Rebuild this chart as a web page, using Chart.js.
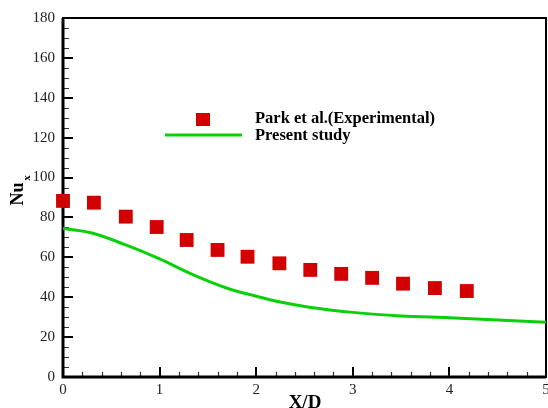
<!DOCTYPE html>
<html>
<head>
<meta charset="utf-8">
<script src="https://cdn.jsdelivr.net/npm/chart.js@4/dist/chart.umd.min.js"></script>
<style>
  html, body { margin: 0; padding: 0; background: #fff; }
  #wrap { width: 548px; height: 408px; }
</style>
</head>
<body>
<div id="wrap"><canvas id="nuChart" width="548" height="408"></canvas></div>
<script>
// experimental points (Park et al.)
const expX = [0, 0.32, 0.65, 0.97, 1.28, 1.6, 1.91, 2.24, 2.56, 2.88, 3.2, 3.52, 3.85, 4.18];
const expNu = [88.3, 87.4, 80.4, 75.2, 68.7, 63.7, 60.3, 57, 53.7, 51.7, 49.7, 46.8, 44.6, 43.1];

// present study curve
const simX = [0, 0.3, 0.65, 1.0, 1.35, 1.7, 2.0, 2.25, 2.55, 3.0, 3.5, 4.0, 4.5, 5.0];
const simNu = [74.5, 72.2, 66.2, 59.2, 51.2, 44.5, 40.5, 37.6, 35, 32.4, 30.6, 29.7, 28.6, 27.4];

const xTicks = [0, 1, 2, 3, 4, 5];
const yTicks = [0, 20, 40, 60, 80, 100, 120, 140, 160, 180];

const RED = '#d30000';
const GREEN = '#0ad00a';
const serif = '"Liberation Serif", "Times New Roman", serif';

// frame, inward ticks, axis titles and legend
const tecplotLook = {
    id: 'tecplotLook',
    beforeDatasetsDraw(chart) {
        const { ctx, chartArea: a, scales } = chart;
        const xs = scales.x, ys = scales.y;
        ctx.save();

        // minor ticks
        ctx.lineWidth = 1.2;
        ctx.strokeStyle = '#333';
        ctx.beginPath();
        for (let v = 0; v <= 180; v += 5) {
            if (v % 20 === 0) continue;
            const y = Math.round(ys.getPixelForValue(v)) + 0.5;
            ctx.moveTo(a.left, y);
            ctx.lineTo(a.left + 6, y);
        }
        for (let i = 0; i <= 25; i++) {
            if (i % 5 === 0) continue;
            const x = Math.round(xs.getPixelForValue(i / 5)) + 0.5;
            ctx.moveTo(x, a.bottom);
            ctx.lineTo(x, a.bottom - 5);
        }
        ctx.stroke();

        // major ticks
        ctx.strokeStyle = '#000';
        ctx.lineWidth = 2;
        ctx.beginPath();
        yTicks.forEach(v => {
            const y = Math.round(ys.getPixelForValue(v));
            ctx.moveTo(a.left, y);
            ctx.lineTo(a.left + 10, y);
        });
        xTicks.forEach(v => {
            const x = Math.round(xs.getPixelForValue(v));
            ctx.moveTo(x, a.bottom);
            ctx.lineTo(x, a.bottom - 10);
        });
        ctx.stroke();

        // frame
        ctx.lineWidth = 2;
        ctx.strokeRect(a.left, a.top, a.right - a.left, a.bottom - a.top);
        ctx.lineWidth = 3;
        ctx.beginPath();
        ctx.moveTo(a.left, a.top);
        ctx.lineTo(a.left, a.bottom);
        ctx.lineTo(a.right, a.bottom);
        ctx.stroke();
        ctx.restore();
    },
    afterDraw(chart) {
        const { ctx } = chart;
        ctx.save();
        ctx.fillStyle = '#000';

        // x title
        ctx.font = 'bold 19px ' + serif;
        ctx.textAlign = 'center';
        ctx.textBaseline = 'middle';
        ctx.fillText('X/D', 305, 403);

        // y title Nu with subscript x
        ctx.save();
        ctx.translate(18, 194);
        ctx.rotate(-Math.PI / 2);
        ctx.font = 'bold 18px ' + serif;
        ctx.fillText('Nu', 0, 0);
        ctx.font = 'bold 11px ' + serif;
        ctx.fillText('x', 16, 9);
        ctx.restore();

        // legend
        const ds = chart.data.datasets;
        ctx.fillStyle = RED;
        ctx.fillRect(196, 113, 14, 13);
        ctx.strokeStyle = GREEN;
        ctx.lineWidth = 3;
        ctx.beginPath();
        ctx.moveTo(165, 135);
        ctx.lineTo(242, 135);
        ctx.stroke();
        ctx.fillStyle = '#000';
        ctx.font = 'bold 16.5px ' + serif;
        ctx.textAlign = 'left';
        ctx.fillText(ds[0].label, 255, 119);
        ctx.fillText(ds[1].label, 255, 136);
        ctx.restore();
    }
};

const ctx = document.getElementById('nuChart').getContext('2d');
new Chart(ctx, {
    type: 'scatter',
    data: {
        datasets: [{
            label: 'Park et al.(Experimental)',
            data: expX.map((x, i) => ({ x: x, y: expNu[i] })),
            pointStyle: 'rect',
            pointRadius: 9.8,
            pointBorderWidth: 0,
            backgroundColor: RED,
            borderColor: RED,
            showLine: false,
            clip: false,
            order: 0
        }, {
            label: 'Present study',
            data: simX.map((x, i) => ({ x: x, y: simNu[i] })),
            showLine: true,
            borderColor: GREEN,
            borderWidth: 3,
            pointRadius: 0,
            cubicInterpolationMode: 'monotone',
            order: 1
        }]
    },
    options: {
        responsive: false,
        animation: false,
        layout: { autoPadding: false, padding: { left: 0, right: 2, top: 18, bottom: 0 } },
        plugins: {
            legend: { display: false },
            tooltip: { enabled: false }
        },
        scales: {
            x: {
                type: 'linear',
                min: 0, max: 5,
                afterFit: s => { s.height = 31; s.paddingLeft = 0; s.paddingRight = 0; },
                grid: { display: false, drawTicks: false },
                border: { display: false },
                ticks: {
                    stepSize: 1,
                    padding: 4,
                    color: '#222',
                    font: { family: serif, size: 15 }
                }
            },
            y: {
                min: 0, max: 180,
                afterFit: s => { s.width = 63; s.paddingTop = 0; s.paddingBottom = 0; },
                grid: { display: false, drawTicks: false },
                border: { display: false },
                ticks: {
                    stepSize: 20,
                    padding: 8,
                    color: '#222',
                    font: { family: serif, size: 15 }
                }
            }
        }
    },
    plugins: [tecplotLook]
});
</script>
</body>
</html>
